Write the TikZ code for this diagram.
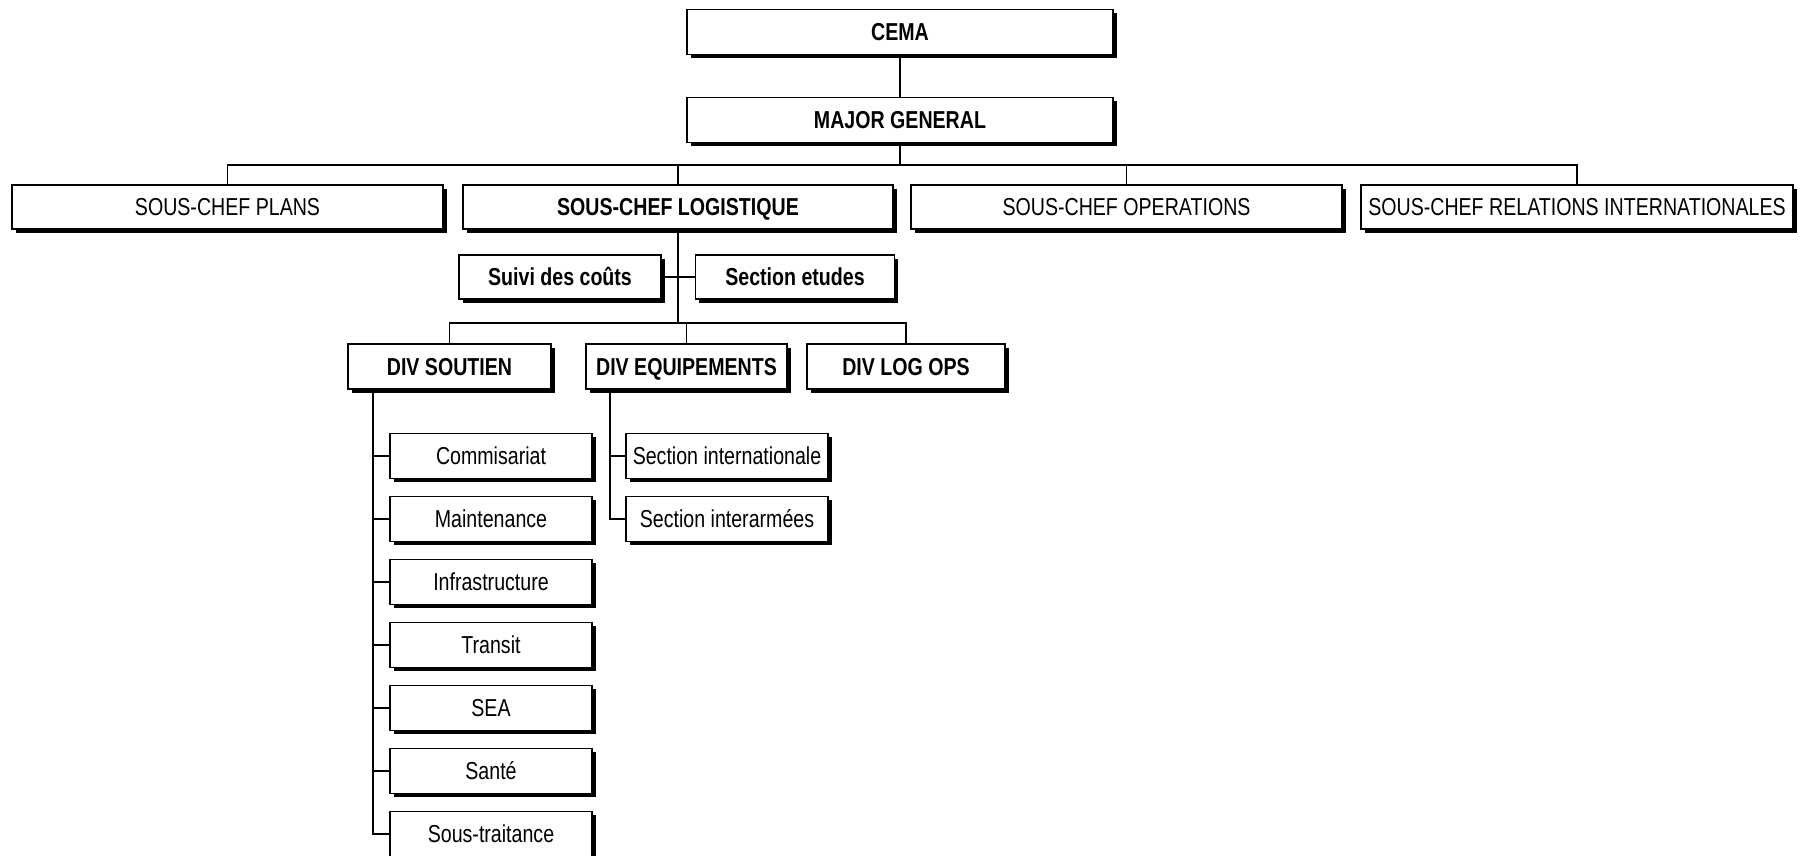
\documentclass[tikz,border=0pt]{standalone}
\usepackage{fontspec}
\setmainfont{Liberation Sans}[FakeStretch=0.8]
\usetikzlibrary{shadows}
\tikzset{
  box/.style={draw=black, line width=1.6pt, fill=white, rectangle, inner sep=0pt,
    minimum height=45pt, align=center, text height=17.5pt, text depth=0pt,
    font=\fontsize{24.5}{28}\selectfont,
    drop shadow={shadow xshift=3.5pt, shadow yshift=-3.5pt, opacity=1, fill=black}},
  bbox/.style={box, font=\fontsize{24.5}{28}\selectfont\bfseries},
  link/.style={draw=black, line width=1.4pt}
}
\begin{document}
\begin{tikzpicture}[x=1pt, y=-1pt]
\useasboundingbox[fill=white] (0,0) rectangle (1801,856);
% level 0-1
\node[bbox, minimum width=426pt] (cema) at (900,32) {CEMA};
\node[bbox, minimum width=426pt] (mg) at (900,120) {MAJOR GENERAL};
\coordinate (bus1) at (900,165);
% level 2
\node[box,  minimum width=431pt, minimum height=44pt] (plans) at (227.5,207) {SOUS-CHEF PLANS};
\node[bbox, minimum width=430pt, minimum height=44pt] (logi) at (678,207) {SOUS-CHEF LOGISTIQUE};
\node[box,  minimum width=431pt, minimum height=44pt] (ops) at (1126.5,207) {SOUS-CHEF OPERATIONS};
\node[box,  minimum width=432pt, minimum height=44pt] (rel) at (1577,207) {SOUS-CHEF RELATIONS INTERNATIONALES};
% staff sections
\node[bbox, minimum width=202pt, minimum height=44pt] (suivi) at (560,277) {Suivi des coûts};
\node[bbox, minimum width=199pt, minimum height=44pt] (etudes) at (795,277) {Section etudes};
\coordinate (bus2) at (678,323);
% level 3
\node[bbox, minimum width=203pt] (soutien) at (449.5,366.5) {DIV SOUTIEN};
\node[bbox, minimum width=201pt] (equip) at (686.5,366.5) {DIV EQUIPEMENTS};
\node[bbox, minimum width=198pt] (logops) at (906,366.5) {DIV LOG OPS};
% soutien children
\node[box, minimum width=202pt] (c1) at (491,456) {Commisariat};
\node[box, minimum width=202pt] (c2) at (491,519) {Maintenance};
\node[box, minimum width=202pt] (c3) at (491,582) {Infrastructure};
\node[box, minimum width=202pt] (c4) at (491,645) {Transit};
\node[box, minimum width=202pt] (c5) at (491,708) {SEA};
\node[box, minimum width=202pt] (c6) at (491,771) {Santé};
\node[box, minimum width=202pt] (c7) at (491,834) {Sous-traitance};
% equipements children
\node[box, minimum width=202pt] (e1) at (727,456) {Section internationale};
\node[box, minimum width=202pt] (e2) at (727,519) {Section interarmées};
\coordinate (sx) at (373,0);
\coordinate (ex) at (610,0);
% connectors
\draw[link] (cema.south) -- (mg.north);
\draw[link] (mg.south) -- (bus1);
\draw[link] (plans.north) -- (plans.north |- bus1) -- (rel.north |- bus1) -- (rel.north);
\draw[link] (logi.north) -- (logi.north |- bus1);
\draw[link] (ops.north) -- (ops.north |- bus1);
\draw[link] (logi.south) -- (bus2);
\draw[link] (suivi.east) -- (etudes.west);
\draw[link] (soutien.north) |- (bus2) -| (logops.north);
\draw[link] (equip.north) -- (equip.north |- bus2);
\draw[link] (sx |- soutien.south) |- (c7.west);
\foreach \n in {c1,c2,c3,c4,c5,c6} \draw[link] (sx |- \n.west) -- (\n.west);
\draw[link] (ex |- equip.south) |- (e2.west);
\draw[link] (ex |- e1.west) -- (e1.west);
\end{tikzpicture}
\end{document}
